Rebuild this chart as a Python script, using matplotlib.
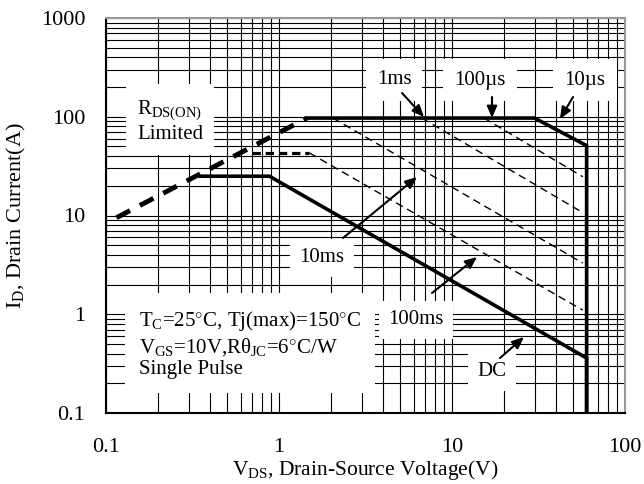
import matplotlib
matplotlib.use("Agg")
import matplotlib.pyplot as plt

plt.rcParams['font.family'] = ['Liberation Serif', 'DejaVu Serif']
plt.rcParams['mathtext.fontset'] = 'custom'
plt.rcParams['mathtext.rm'] = 'Liberation Serif'
plt.rcParams['mathtext.it'] = 'Liberation Serif'
plt.rcParams['lines.scale_dashes'] = False

# boundary curves of the safe operating area (V, A)
rds_v = [0.115, 1.45]
rds_i = [9.5, 97]
us10_v = [1.45, 30, 60, 60]
us10_i = [97, 97, 51, 0.1]
dc_v = [0.35, 0.88, 60, 60]
dc_i = [25, 25, 0.36, 0.1]
ms100_flat_v = [0.7, 1.5]
ms100_flat_i = [43, 43]
ms100_v = [1.5, 57]
ms100_i = [43, 1.1]
ms10_v = [2.05, 57]
ms10_i = [97, 3.3]
ms1_v = [6.7, 56]
ms1_i = [97, 10.9]
us100_v = [15.3, 57]
us100_i = [97, 24.7]

x_ticks = [0.1, 1, 10, 100]
x_labels = ['0.1', '1', '10', '100']
y_ticks = [0.1, 1, 10, 100, 1000]
y_labels = ['0.1', '1', '10', '100', '1000']

fig = plt.figure(figsize=(6.44, 4.84), dpi=100)
ax = fig.add_axes([106 / 644, 1 - 413 / 484, 519 / 644, 395 / 484])
ax.set_xscale('log')
ax.set_yscale('log')
ax.set_xlim(0.1, 100)
ax.set_ylim(0.1, 1000)

ax.grid(True, which='both', color='black', lw=0.8)
ax.set_axisbelow(True)
ax.tick_params(which='both', length=0, labelsize=16)
ax.tick_params(axis='x', pad=18)
ax.tick_params(axis='y', pad=15)
ax.set_xticks(x_ticks)
ax.set_xticklabels(x_labels)
ax.set_yticks(y_ticks)
ax.set_yticklabels(y_labels)
ax.minorticks_on()
ax.tick_params(which='minor', labelleft=False, labelbottom=False)

for s in ['left', 'bottom']:
    ax.spines[s].set_linewidth(1.5)
for s in ['top', 'right']:
    ax.spines[s].set_color('#999999')
    ax.spines[s].set_linewidth(1.5)

ax.plot(rds_v, rds_i, color='black', lw=3.5, dashes=(11, 8), zorder=3)
ax.plot(us10_v, us10_i, color='black', lw=2.6, zorder=3)
ax.plot(dc_v, dc_i, color='black', lw=2.6, zorder=3)
ax.plot(ms100_flat_v, ms100_flat_i, color='black', lw=2.3, dashes=(6, 3.5), zorder=3)
for v, i in [(ms100_v, ms100_i), (ms10_v, ms10_i), (ms1_v, ms1_i), (us100_v, us100_i)]:
    ax.plot(v, i, color='black', lw=1, dashes=(5.5, 3.5), zorder=3)

def ib(px, py):
    # pixel position in the figure -> data coords
    return ax.transData.inverted().transform(fig.transFigure.transform((px / 644, 1 - py / 484)))

fs = 15

def label(txt, px, py, ha='center', pad=4):
    x, y = ib(px, py)
    ax.text(x, y, txt, ha=ha, va='center', fontsize=fs, zorder=4,
            bbox=dict(facecolor='white', edgecolor='none', pad=pad))

def arrow(x0, y0, x1, y1):
    ax.annotate('', xy=ib(x1, y1), xytext=ib(x0, y0), zorder=5,
                arrowprops=dict(arrowstyle='-|>,head_length=0.7,head_width=0.3',
                                color='black', lw=1.5, shrinkA=0, shrinkB=0))

label('1ms', 394, 80, pad=8)
label('100µs', 480, 80, pad=8)
label('10µs', 585, 80, pad=8)
label('10ms', 322, 258, pad=7)
label('100ms', 416, 320, pad=7)
label('DC', 492, 372, pad=7)
label('R$_{\\mathrm{DS(ON)}}$\nLimited', 137, 121, ha='left', pad=8)
label('T$_{\\mathrm{C}}$=25$^{\\circ}$C, Tj(max)=150$^{\\circ}$C\n'
      'V$_{\\mathrm{GS}}$=10V,R$\\theta_{\\mathrm{JC}}$=6$^{\\circ}$C/W\n'
      'Single Pulse', 139, 344, ha='left', pad=10)

arrow(402, 93, 424, 117)
arrow(492, 97, 492, 118)
arrow(573, 97, 560, 119)
arrow(343, 238, 417, 177)
arrow(432, 293, 477, 257)
arrow(500, 358, 524, 337)

ax.set_xlabel('V$_{\\mathrm{DS}}$, Drain-Source Voltage(V)', fontsize=15.5)
ax.set_ylabel('I$_{\\mathrm{D}}$, Drain Current(A)', fontsize=16)
ax.xaxis.set_label_coords(0.5, -0.114)
ax.yaxis.set_label_coords(-0.15, 0.5)

fig.savefig('out.png', dpi=100)
